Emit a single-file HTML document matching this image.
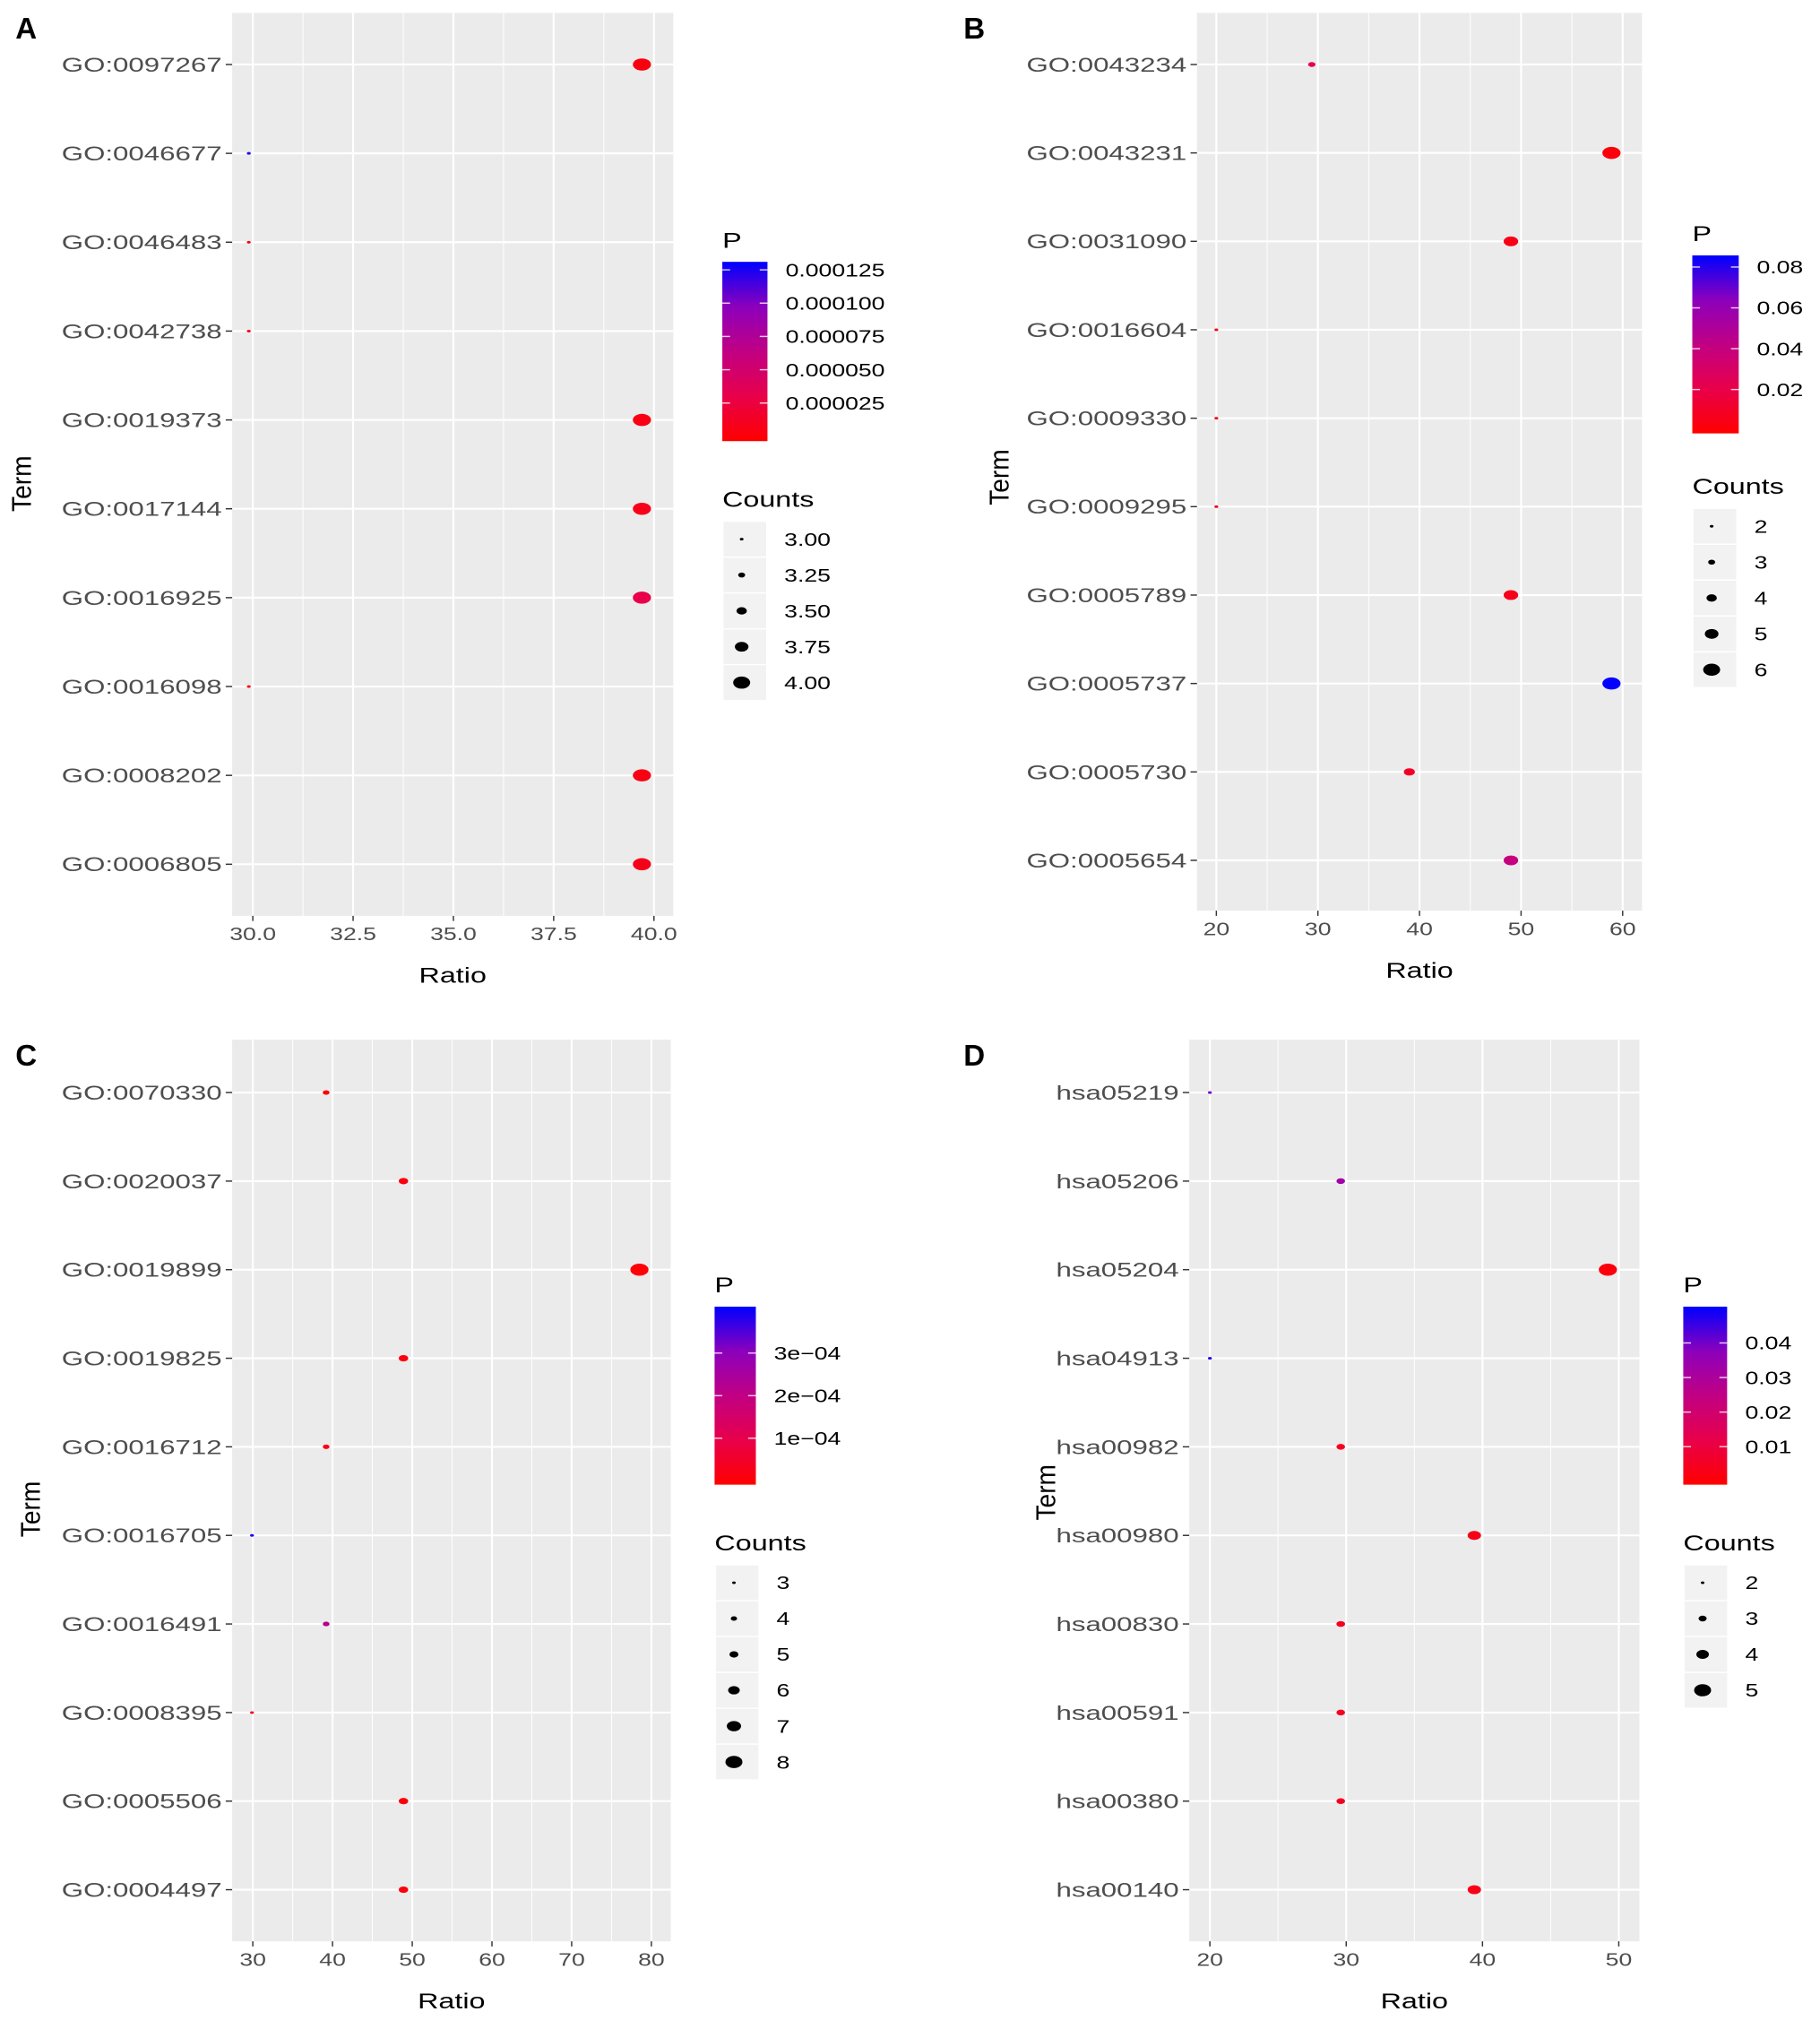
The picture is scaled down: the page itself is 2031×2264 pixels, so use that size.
<!DOCTYPE html>
<html><head><meta charset="utf-8">
<style>
html,body{margin:0;padding:0;background:#fff;}
svg{display:block;font-family:"Liberation Sans",sans-serif;}
</style></head>
<body>
<svg id="chart" xmlns="http://www.w3.org/2000/svg" width="2031" height="2264" viewBox="0 0 1411 1573" preserveAspectRatio="none">
<defs>
<linearGradient id="pgrad" x1="0" y1="1" x2="0" y2="0">
<stop offset="0" stop-color="#FF0000"/><stop offset="0.25" stop-color="#E8004A"/><stop offset="0.5" stop-color="#C10083"/><stop offset="0.75" stop-color="#8C00BC"/><stop offset="1" stop-color="#0000FF"/>
</linearGradient>
</defs>
</svg>
<script>
// Panel A data
const termsA=["GO:0097267","GO:0046677","GO:0046483","GO:0042738","GO:0019373","GO:0017144","GO:0016925","GO:0016098","GO:0008202","GO:0006805"];
const ratioA=[39.7,29.9,29.9,29.9,39.7,39.7,39.7,29.9,39.7,39.7];
const countA=[4,3,3,3,4,4,4,3,4,4];
const pA=[0.000003,0.000125,0.000005,0.000005,0.000005,0.000008,0.00003,0.000003,0.000005,0.000008];
const xTicksA=[30,32.5,35,37.5,40];
const xTickLabelsA=["30.0","32.5","35.0","37.5","40.0"];
const pTicksA=[0.000025,0.00005,0.000075,0.0001,0.000125];
const pTickLabelsA=["0.000025","0.000050","0.000075","0.000100","0.000125"];
const countKeysA=[3,3.25,3.5,3.75,4];
const countKeyLabelsA=["3.00","3.25","3.50","3.75","4.00"];
// Panel B data
const termsB=["GO:0043234","GO:0043231","GO:0031090","GO:0016604","GO:0009330","GO:0009295","GO:0005789","GO:0005737","GO:0005730","GO:0005654"];
const ratioB=[29.4,58.9,49,20,20,20,49,58.9,39,49];
const countB=[3,6,5,2,2,2,5,6,4,5];
const pB=[0.02,0.002,0.005,0.004,0.004,0.004,0.006,0.085,0.01,0.04];
const xTicksB=[20,30,40,50,60];
const xTickLabelsB=["20","30","40","50","60"];
const pTicksB=[0.02,0.04,0.06,0.08];
const pTickLabelsB=["0.02","0.04","0.06","0.08"];
const countKeysB=[2,3,4,5,6];
const countKeyLabelsB=["2","3","4","5","6"];
// Panel C data
const termsC=["GO:0070330","GO:0020037","GO:0019899","GO:0019825","GO:0016712","GO:0016705","GO:0016491","GO:0008395","GO:0005506","GO:0004497"];
const ratioC=[39.2,48.9,78.5,48.9,39.2,29.9,39.2,29.9,48.9,48.9];
const countC=[4,5,8,5,4,3,4,3,5,5];
const pC=[0.00001,0.00001,0.000002,0.00001,0.00002,0.00039,0.00022,0.00002,0.000005,0.00001];
const xTicksC=[30,40,50,60,70,80];
const xTickLabelsC=["30","40","50","60","70","80"];
const pTicksC=[0.0001,0.0002,0.0003];
const pTickLabelsC=["1e\u221204","2e\u221204","3e\u221204"];
const countKeysC=[3,4,5,6,7,8];
const countKeyLabelsC=["3","4","5","6","7","8"];
// Panel D data
const termsD=["hsa05219","hsa05206","hsa05204","hsa04913","hsa00982","hsa00980","hsa00830","hsa00591","hsa00380","hsa00140"];
const ratioD=[20,29.6,49.2,20,29.6,39.4,29.6,29.6,29.6,39.4];
const countD=[2,3,5,2,3,4,3,3,3,4];
const pD=[0.04,0.033,0.001,0.048,0.004,0.003,0.005,0.005,0.005,0.003];
const xTicksD=[20,30,40,50];
const xTickLabelsD=["20","30","40","50"];
const pTicksD=[0.01,0.02,0.03,0.04];
const pTickLabelsD=["0.01","0.02","0.03","0.04"];
const countKeysD=[2,3,4,5];
const countKeyLabelsD=["2","3","4","5"];

const NS="http://www.w3.org/2000/svg";
const svg=document.getElementById('chart');
function mk(tag,attrs,parent){const e=document.createElementNS(NS,tag);for(const k in attrs)e.setAttribute(k,attrs[k]);(parent||svg).appendChild(e);return e;}
function txt(parent,x,y,str,size,anchor,color,rot,sx){
 sx=sx||1.32;
 const tf=rot?`translate(${x} ${y}) rotate(-90) scale(1.15 1.25)`:`translate(${x} ${y}) scale(${sx} 1)`;
 const t=mk('text',{transform:tf,'font-size':size,fill:color||'#000','text-anchor':anchor||'start'},parent);
 t.textContent=str;return t;
}
const stops=[[255,0,0],[232,0,74],[193,0,131],[140,0,188],[0,0,255]];
function pcol(t){t=Math.max(0,Math.min(1,t));const s=t*4,i=Math.min(3,Math.floor(s)),f=s-i;const a=stops[i],b=stops[i+1];return `rgb(${Math.round(a[0]+(b[0]-a[0])*f)},${Math.round(a[1]+(b[1]-a[1])*f)},${Math.round(a[2]+(b[2]-a[2])*f)})`;}

const panels=[
 {id:'a',letter:'A',lx:12,ly:30,bg:[180,10,522,710],x0:30,px0:196,x1:40,px1:507,rowTop:50,rowBot:670,terms:termsA,ratio:ratioA,count:countA,p:pA,xt:xTicksA,xtl:xTickLabelsA,cb:[560,203,595,342],plo:-0.0000036,phi:0.000131,pt:pTicksA,ptl:pTickLabelsA,ck:countKeysA,ckl:countKeyLabelsA,cTitleY:387,keyY:418,cmin:3,cmax:4,xLabY:729,ratioY:762,termX:24,termY:375},
 {id:'b',letter:'B',lx:747,ly:30,bg:[928,10,1273,706],x0:20,px0:943,x1:60,px1:1258,rowTop:50,rowBot:667,terms:termsB,ratio:ratioB,count:countB,p:pB,xt:xTicksB,xtl:xTickLabelsB,cb:[1312,198,1348,336],plo:-0.0015,phi:0.0857,pt:pTicksB,ptl:pTickLabelsB,ck:countKeysB,ckl:countKeyLabelsB,cTitleY:377,keyY:408,cmin:2,cmax:6,xLabY:725,ratioY:758,termX:782,termY:370},
 {id:'c',letter:'C',lx:12,ly:826,bg:[180,806,520,1505],x0:30,px0:196,x1:80,px1:505,rowTop:847,rowBot:1465,terms:termsC,ratio:ratioC,count:countC,p:pC,xt:xTicksC,xtl:xTickLabelsC,cb:[554,1013,586,1151],plo:-0.000009,phi:0.000409,pt:pTicksC,ptl:pTickLabelsC,ck:countKeysC,ckl:countKeyLabelsC,cTitleY:1196,keyY:1227,cmin:3,cmax:8,xLabY:1524,ratioY:1557,termX:31,termY:1170},
 {id:'d',letter:'D',lx:747,ly:826,bg:[922,806,1271,1505],x0:20,px0:938,x1:50,px1:1255,rowTop:847,rowBot:1465,terms:termsD,ratio:ratioD,count:countD,p:pD,xt:xTicksD,xtl:xTickLabelsD,cb:[1305,1013,1339,1151],plo:-0.001,phi:0.0505,pt:pTicksD,ptl:pTickLabelsD,ck:countKeysD,ckl:countKeyLabelsD,cTitleY:1196,keyY:1227,cmin:2,cmax:5,xLabY:1524,ratioY:1557,termX:818,termY:1157}
];

panels.forEach(P=>{
 const g=mk('g',{});
 
 
 const xs=v=>P.px0+(v-P.x0)*(P.px1-P.px0)/(P.x1-P.x0);
 const n=P.terms.length;
 const ys=i=>P.rowTop+i*(P.rowBot-P.rowTop)/(n-1);
 const [bx0,by0,bx1,by1]=P.bg;
 const lt=mk('text',{x:P.lx,y:P.ly,'font-size':23,'font-weight':'bold',fill:'#000'},g);lt.textContent=P.letter;
 
 
 const bg=mk('rect',{x:bx0,y:by0,width:bx1-bx0,height:by1-by0,fill:'#EBEBEB'},g);
 
 
 for(let i=0;i<P.xt.length-1;i++){const m=(P.xt[i]+P.xt[i+1])/2;mk('line',{x1:xs(m),x2:xs(m),y1:by0,y2:by1,stroke:'#fff','stroke-width':0.7},g);}
 const step=P.xt[1]-P.xt[0];
 [P.xt[0]-step/2,P.xt[P.xt.length-1]+step/2].forEach(m=>{const x=xs(m);if(x>bx0&&x<bx1)mk('line',{x1:x,x2:x,y1:by0,y2:by1,stroke:'#fff','stroke-width':0.7},g);});
 P.xt.forEach((v,i)=>{
  const x=xs(v);
  const gl=mk('line',{x1:x,x2:x,y1:by0,y2:by1,stroke:'#fff','stroke-width':1.5},g);
  
  
  mk('line',{x1:x,x2:x,y1:by1,y2:by1+4,stroke:'#333','stroke-width':1},g);
  const t=txt(g,x,P.xLabY,P.xtl[i],14,'middle','#4d4d4d');
  
  
 });
 P.terms.forEach((term,i)=>{
  const y=ys(i);
  const hl=mk('line',{x1:bx0,x2:bx1,y1:y,y2:y,stroke:'#fff','stroke-width':1.5},g);
  
  
  mk('line',{x1:bx0-5,x2:bx0,y1:y,y2:y,stroke:'#333','stroke-width':1},g);
  const t=txt(g,bx0-8,y+5.5,term,15.5,'end','#4d4d4d',false,1.4);
  
  
 });
 const rOf=c=>1+(c-P.cmin)/(P.cmax-P.cmin)*3.7;
 P.terms.forEach((term,i)=>{
  const r=rOf(P.count[i]);
  const e=mk('ellipse',{cx:xs(P.ratio[i]),cy:ys(i),rx:r*1.5,ry:r,fill:pcol((P.p[i]-P.plo)/(P.phi-P.plo))},g);
  
  
 });
 const xt=txt(g,(bx0+bx1)/2,P.ratioY,'Ratio',17,'middle','#000');
 
 
 const yt=txt(g,P.termX,P.termY,'Term',17,'middle','#000',true);
 
 
 const [cx0,cy0,cx1,cy1]=P.cb;
 const pt=txt(g,cx0,cy0-11,'P',17,'start','#000');
 
 
 const cbr=mk('rect',{x:cx0,y:cy0,width:cx1-cx0,height:cy1-cy0,fill:'url(#pgrad)'},g);
 
 
 const cys=v=>cy1-(v-P.plo)/(P.phi-P.plo)*(cy1-cy0);
 P.pt.forEach((v,i)=>{
  const y=cys(v);
  mk('line',{x1:cx0,x2:cx0+6,y1:y,y2:y,stroke:'#fff','stroke-width':1,opacity:0.8},g);
  mk('line',{x1:cx1-6,x2:cx1,y1:y,y2:y,stroke:'#fff','stroke-width':1,opacity:0.8},g);
  const t=txt(g,cx1+14,y+5,P.ptl[i],14,'start','#000');
  
  
 });
 const ct=txt(g,cx0,P.cTitleY+6,'Counts',17,'start','#000');
 
 
 const kh=27.8;
 P.ck.forEach((c,i)=>{
  const y=P.keyY+i*kh;
  const kr=mk('rect',{x:cx0+1,y:y-kh/2+0.5,width:33,height:kh-1,fill:'#F2F2F2'},g);
  
  
  const r=rOf(c);
  mk('ellipse',{cx:cx0+15,cy:y,rx:r*1.4,ry:r,fill:'#000'},g);
  const t=txt(g,cx0+48,y+5,P.ckl[i],14,'start','#000');
  
  
 });
});
</script>
</body></html>
